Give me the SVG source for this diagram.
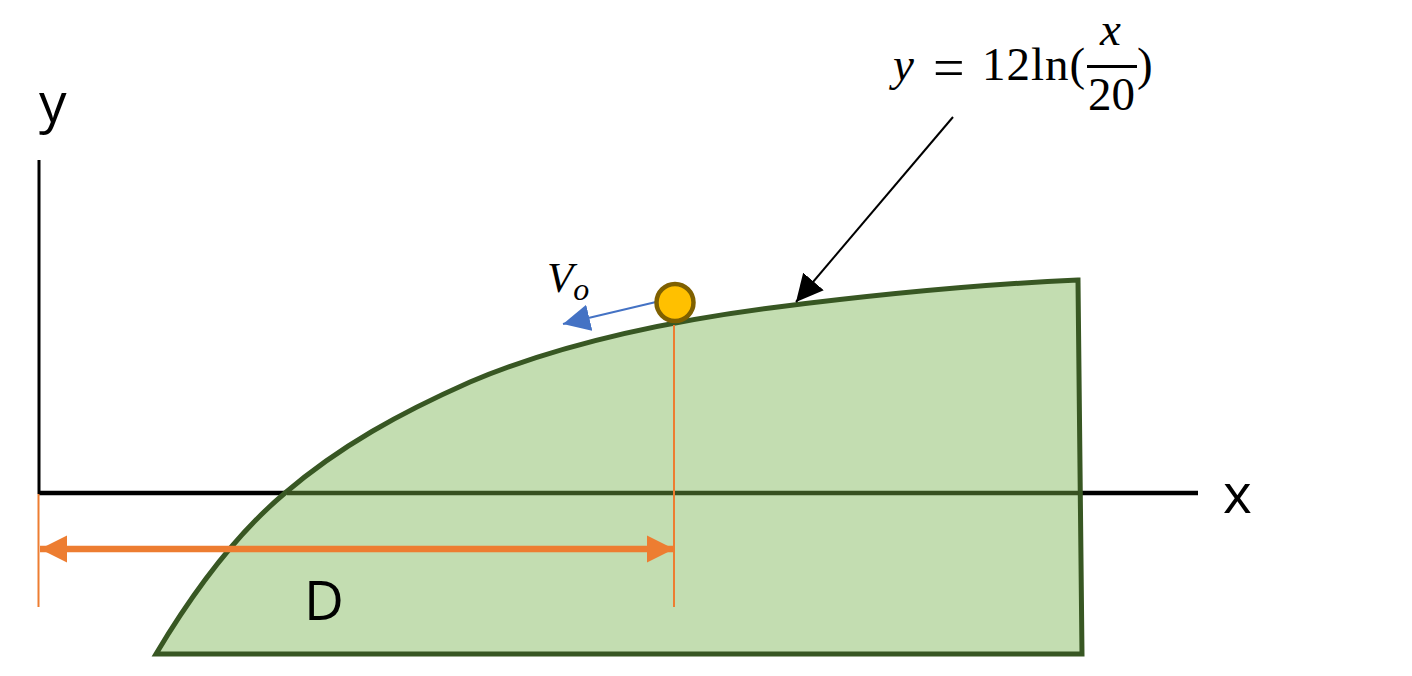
<svg xmlns="http://www.w3.org/2000/svg" width="1412" height="676" viewBox="0 0 1412 676">
<defs>
<style>
.lab{font-family:"Open Sans","Noto Sans",sans-serif;font-size:55px;fill:#000}
.m{font-family:"Liberation Serif",serif;font-size:47px;fill:#000}
.mi{font-family:"Liberation Serif",serif;font-style:italic;font-size:47px;fill:#000}
</style>
<marker id="ob" markerUnits="userSpaceOnUse" markerWidth="28" markerHeight="28" refX="27" refY="14" orient="auto-start-reverse"><path d="M0 0.500L27 14L0 27.500Z" fill="#ED7D31"/></marker>
<marker id="bk" markerUnits="userSpaceOnUse" markerWidth="28" markerHeight="28" refX="27" refY="14" orient="auto"><path d="M0 0.500L27 14L0 27.500Z" fill="#000"/></marker>
<marker id="bl" markerUnits="userSpaceOnUse" markerWidth="28" markerHeight="28" refX="27" refY="14" orient="auto"><path d="M0 0.500L27 14L0 27.500Z" fill="#4472C4"/></marker>
</defs>
<rect width="1412" height="676" fill="#fff"/>
<g id="axes" fill="none" stroke="#000">
<path d="M39 160V494" stroke-width="3"/>
<path d="M38 493H1198" stroke-width="4.500"/>
</g>
<g id="ground">
<path d="M156 654C190 597 235 535 285 493C340 446 400 413 470 382C560 344 670 321 770 308C880 294 990 284 1078 280L1082 654Z" fill="#C3DDB1" stroke="#385723" stroke-width="5"/>
<path d="M287 493H1079" stroke="#375020" stroke-width="4.500" fill="none"/>
</g>
<g id="connectors" fill="none">
<path d="M38.500 494V607" stroke="#ED7D31" stroke-width="2"/>
<path d="M674 325V607" stroke="#ED7D31" stroke-width="2"/>
<path d="M40 549H674" stroke="#ED7D31" stroke-width="6.500" marker-start="url(#ob)" marker-end="url(#ob)"/>
<path d="M953 117L796 302" stroke="#000" stroke-width="2" marker-end="url(#bk)"/>
<path d="M656 302L563 324" stroke="#4472C4" stroke-width="2" marker-end="url(#bl)"/>
</g>
<g id="ball"><circle cx="675" cy="302.500" r="18.500" fill="#FFC000" stroke="#7F6000" stroke-width="4.500"/></g>
<g id="labels">
<text class="lab" x="39" y="122">y</text>
<text class="lab" x="1223" y="513">x</text>
<text class="lab" x="304" y="620">D</text>
<text class="mi" x="547" y="292" style="font-size:43px">V<tspan dy="8" style="font-size:32px">o</tspan></text>
</g>
<g id="formula">
<text class="mi" x="893" y="80">y</text>
<text class="m" x="933" y="87" style="font-size:56px">=</text>
<text class="m" x="982" y="80" letter-spacing="1">12ln(</text>
<text class="mi" x="1100" y="45">x</text>
<path d="M1087 66.500H1137" stroke="#000" stroke-width="3"/>
<text class="m" x="1088" y="110">20</text>
<text class="m" x="1137" y="80">)</text>
</g>
</svg>
